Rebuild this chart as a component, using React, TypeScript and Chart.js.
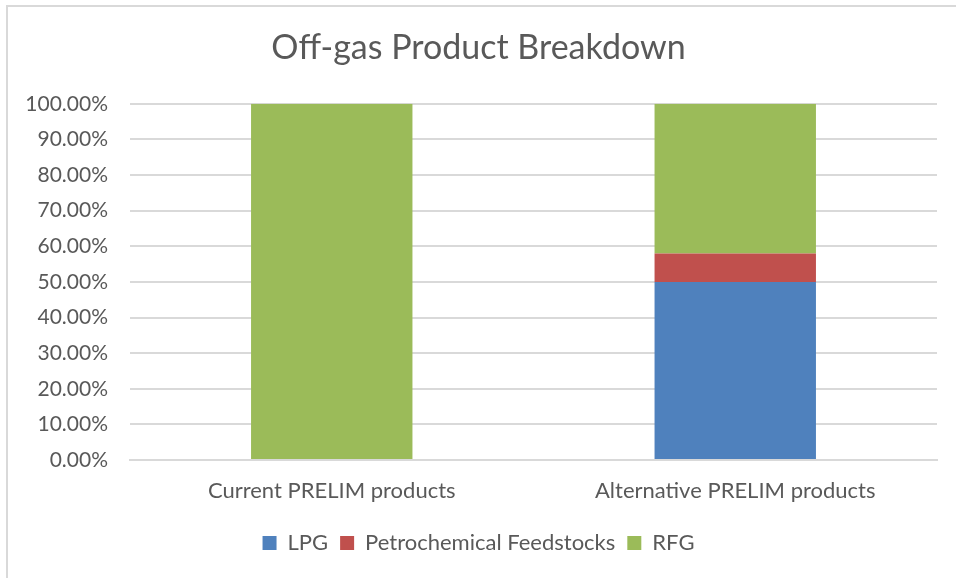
import React, { useEffect, useRef } from "react";
import { Chart, registerables } from "chart.js";

Chart.register(...registerables);

const categories = ["Current PRELIM products", "Alternative PRELIM products"];
const lpg = [0, 0.5];
const petrochemical = [0, 0.08];
const rfg = [1, 0.42];
const yTicks = [0, 0.1, 0.2, 0.3, 0.4, 0.5, 0.6, 0.7, 0.8, 0.9, 1];

const FONT = "Lato, 'Open Sans', sans-serif";
const TEXT = "#595959";

export default function App() {
  const ref = useRef<HTMLCanvasElement>(null);
  useEffect(() => {
    if (!ref.current) return;
    const chart = new Chart(ref.current, {
      type: "bar",
      data: {
        labels: categories,
        datasets: [
          { label: "LPG", data: lpg, backgroundColor: "#4F81BD", barPercentage: 0.8, categoryPercentage: 0.5 },
          { label: "Petrochemical Feedstocks", data: petrochemical, backgroundColor: "#C0504D", barPercentage: 0.8, categoryPercentage: 0.5 },
          { label: "RFG", data: rfg, backgroundColor: "#9BBB59", barPercentage: 0.8, categoryPercentage: 0.5 },
        ],
      },
      options: {
        animation: false,
        responsive: false,
        maintainAspectRatio: false,
        layout: { padding: { top: 26, left: 20, right: 19, bottom: 14 } },
        plugins: {
          title: {
            display: true,
            text: "Off-gas Product Breakdown",
            color: TEXT,
            font: { family: FONT, size: 34, weight: "normal" as any },
            padding: { top: 2, bottom: 35 },
          },
          legend: {
            position: "bottom",
            labels: {
              color: TEXT,
              font: { family: FONT, size: 22 },
              boxWidth: 14,
              boxHeight: 14,
              padding: 12,
            },
          },
          tooltip: { enabled: false },
        },
        scales: {
          x: {
            stacked: true,
            grid: { display: false },
            border: { color: "#d9d9d9", width: 2 },
            ticks: { color: TEXT, font: { family: FONT, size: 22 }, padding: 10 },
            afterFit: (s: any) => { s.height = 60; },
          },
          y: {
            stacked: true,
            min: 0,
            max: 1,
            afterBuildTicks: (s: any) => { s.ticks = yTicks.map((v) => ({ value: v })); },
            afterFit: (s: any) => { s.width = 110; },
            grid: { color: "#d9d9d9", lineWidth: 2, drawTicks: false },
            border: { display: false },
            ticks: {
              color: TEXT,
              font: { family: FONT, size: 21 },
              padding: 22,
              callback: (v: any) => (Number(v) * 100).toFixed(2) + "%",
            },
          },
        },
      },
    });
    return () => chart.destroy();
  }, []);
  return (
    <div style={{ position: "absolute", left: 0, top: 0, width: 956, height: 578, overflow: "hidden", background: "#fff" }}>
      <canvas ref={ref} width={956} height={578} style={{ position: "absolute", left: 0, top: 0 }} />
      <div style={{ position: "absolute", left: 6, top: 5, width: 980, height: 600, borderTop: "2px solid #d9d9d9", borderLeft: "2px solid #d9d9d9", pointerEvents: "none" }} />
    </div>
  );
}
